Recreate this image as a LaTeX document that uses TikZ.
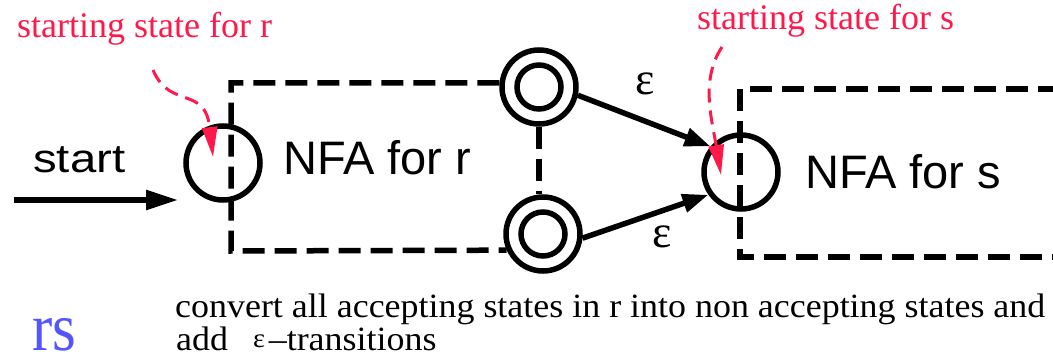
\documentclass[tikz,border=0pt]{standalone}
\usepackage{fontspec}
\setmainfont{Liberation Serif}
\newfontfamily\helv{Liberation Sans}
\usetikzlibrary{arrows.meta}
\definecolor{annot}{RGB}{255,25,75}
\definecolor{rsblue}{RGB}{85,85,255}
\newsavebox\lineonebox
\newsavebox\linetwobox
\begin{document}
\sbox\lineonebox{\fontsize{34}{32}\selectfont convert all accepting states in r into non accepting states and}
\sbox\linetwobox{\fontsize{34}{32}\selectfont add\hspace{0.7em}{\fontsize{27}{27}\selectfont\raisebox{3pt}{ε}}\hspace{0.1em}–transitions}
\begin{tikzpicture}[x=1pt,y=-1pt,
  state/.style={circle,draw,line width=5.5pt,minimum size=74pt,inner sep=0pt},
  inner/.style={circle,draw,line width=5.5pt,minimum size=44pt,inner sep=0pt},
  boxline/.style={line width=5.5pt,dash pattern=on 22pt off 10pt},
  arr/.style={line width=5.5pt,-{Triangle[length=26pt,width=18pt]}},
  startarr/.style={line width=5.5pt,-{Triangle[length=32pt,width=19pt]}},
  annotarr/.style={annot,line width=3pt,dash pattern=on 14pt off 8pt,-{Triangle[length=30pt,width=15pt]}},
  annottxt/.style={annot,font=\fontsize{36}{40}\selectfont,anchor=base west,inner sep=0pt},
  nfatxt/.style={font=\helv\fontsize{47}{50}\selectfont,anchor=base west,inner sep=0pt},
  eps/.style={font=\fontsize{46}{50}\selectfont,anchor=base,inner sep=0pt}]
\useasboundingbox (0,0) rectangle (1053,358);
\pgfmathsetmacro\hfac{870/\wd\lineonebox}

% states
\node[state] (r0) at (223,163) {};
\node[state] (a1) at (539,87) {};
\node[inner] (a1i) at (539,87) {};
\node[state] (a2) at (543,234) {};
\node[inner] (a2i) at (543,234) {};
\node[state] (s0) at (741,172) {};

% boxes
\coordinate (rTL) at (231,83);
\coordinate (rBL) at (231,251);
\draw[boxline] (a1.174) -- (rTL) -- (rBL) -- (a2.204);
\draw[boxline] (a1.south) -- (a1.south |- a2.north);
\coordinate (sTR) at (1060,89);
\coordinate (sTL) at (740,89);
\coordinate (sBL) at (740,257);
\coordinate (sBR) at (1060,257);
\draw[boxline] (sTR) -- (sTL) -- (sBL) -- (sBR);

% texts
\node[nfatxt] (nfar) at (283,175) {NFA for r};
\node[nfatxt] (nfas) at (805,189) {NFA for s};
\node[anchor=base west,inner sep=0pt,font=\helv\fontsize{40}{44}\selectfont] (start) at (33,173) {\resizebox{92pt}{\height}{start}};

% start arrow
\coordinate (st0) at (14,200);
\coordinate (st1) at (178,200);
\draw[startarr] (st0) -- (st1);

% epsilon arrows
\draw[arr] (a1.-12) -- (s0.140);
\draw[arr] (a2.-6) -- (s0.215);
\node[eps] (e1) at (645,95) {ε};
\node[eps] (e2) at (662,248) {ε};

% annotations
\node[annottxt] (ar) at (17,38) {starting state for r};
\node[annottxt] (as) at (697,30) {starting state for s};
\coordinate (ar0) at (153,70);
\coordinate (ar1) at (213,157);
\draw[annotarr] (ar0) .. controls (170,110) and (205,85) .. (ar1);
\coordinate (as0) at (722,47);
\coordinate (as1) at (721,175);
\draw[annotarr] (as0) .. controls (700,80) and (712,120) .. (as1);

% bottom texts
\node[anchor=base west,inner sep=0pt,text=rsblue,font=\fontsize{68}{70}\selectfont] (rs) at (32,350) {\resizebox{44pt}{\height}{rs}};
\node[anchor=base west,inner sep=0pt] (note1) at (175,318) {\scalebox{\hfac}[1]{\usebox\lineonebox}};
\node[anchor=base west,inner sep=0pt] (note2) at (176,350) {\scalebox{\hfac}[1]{\usebox\linetwobox}};
\end{tikzpicture}
\end{document}
